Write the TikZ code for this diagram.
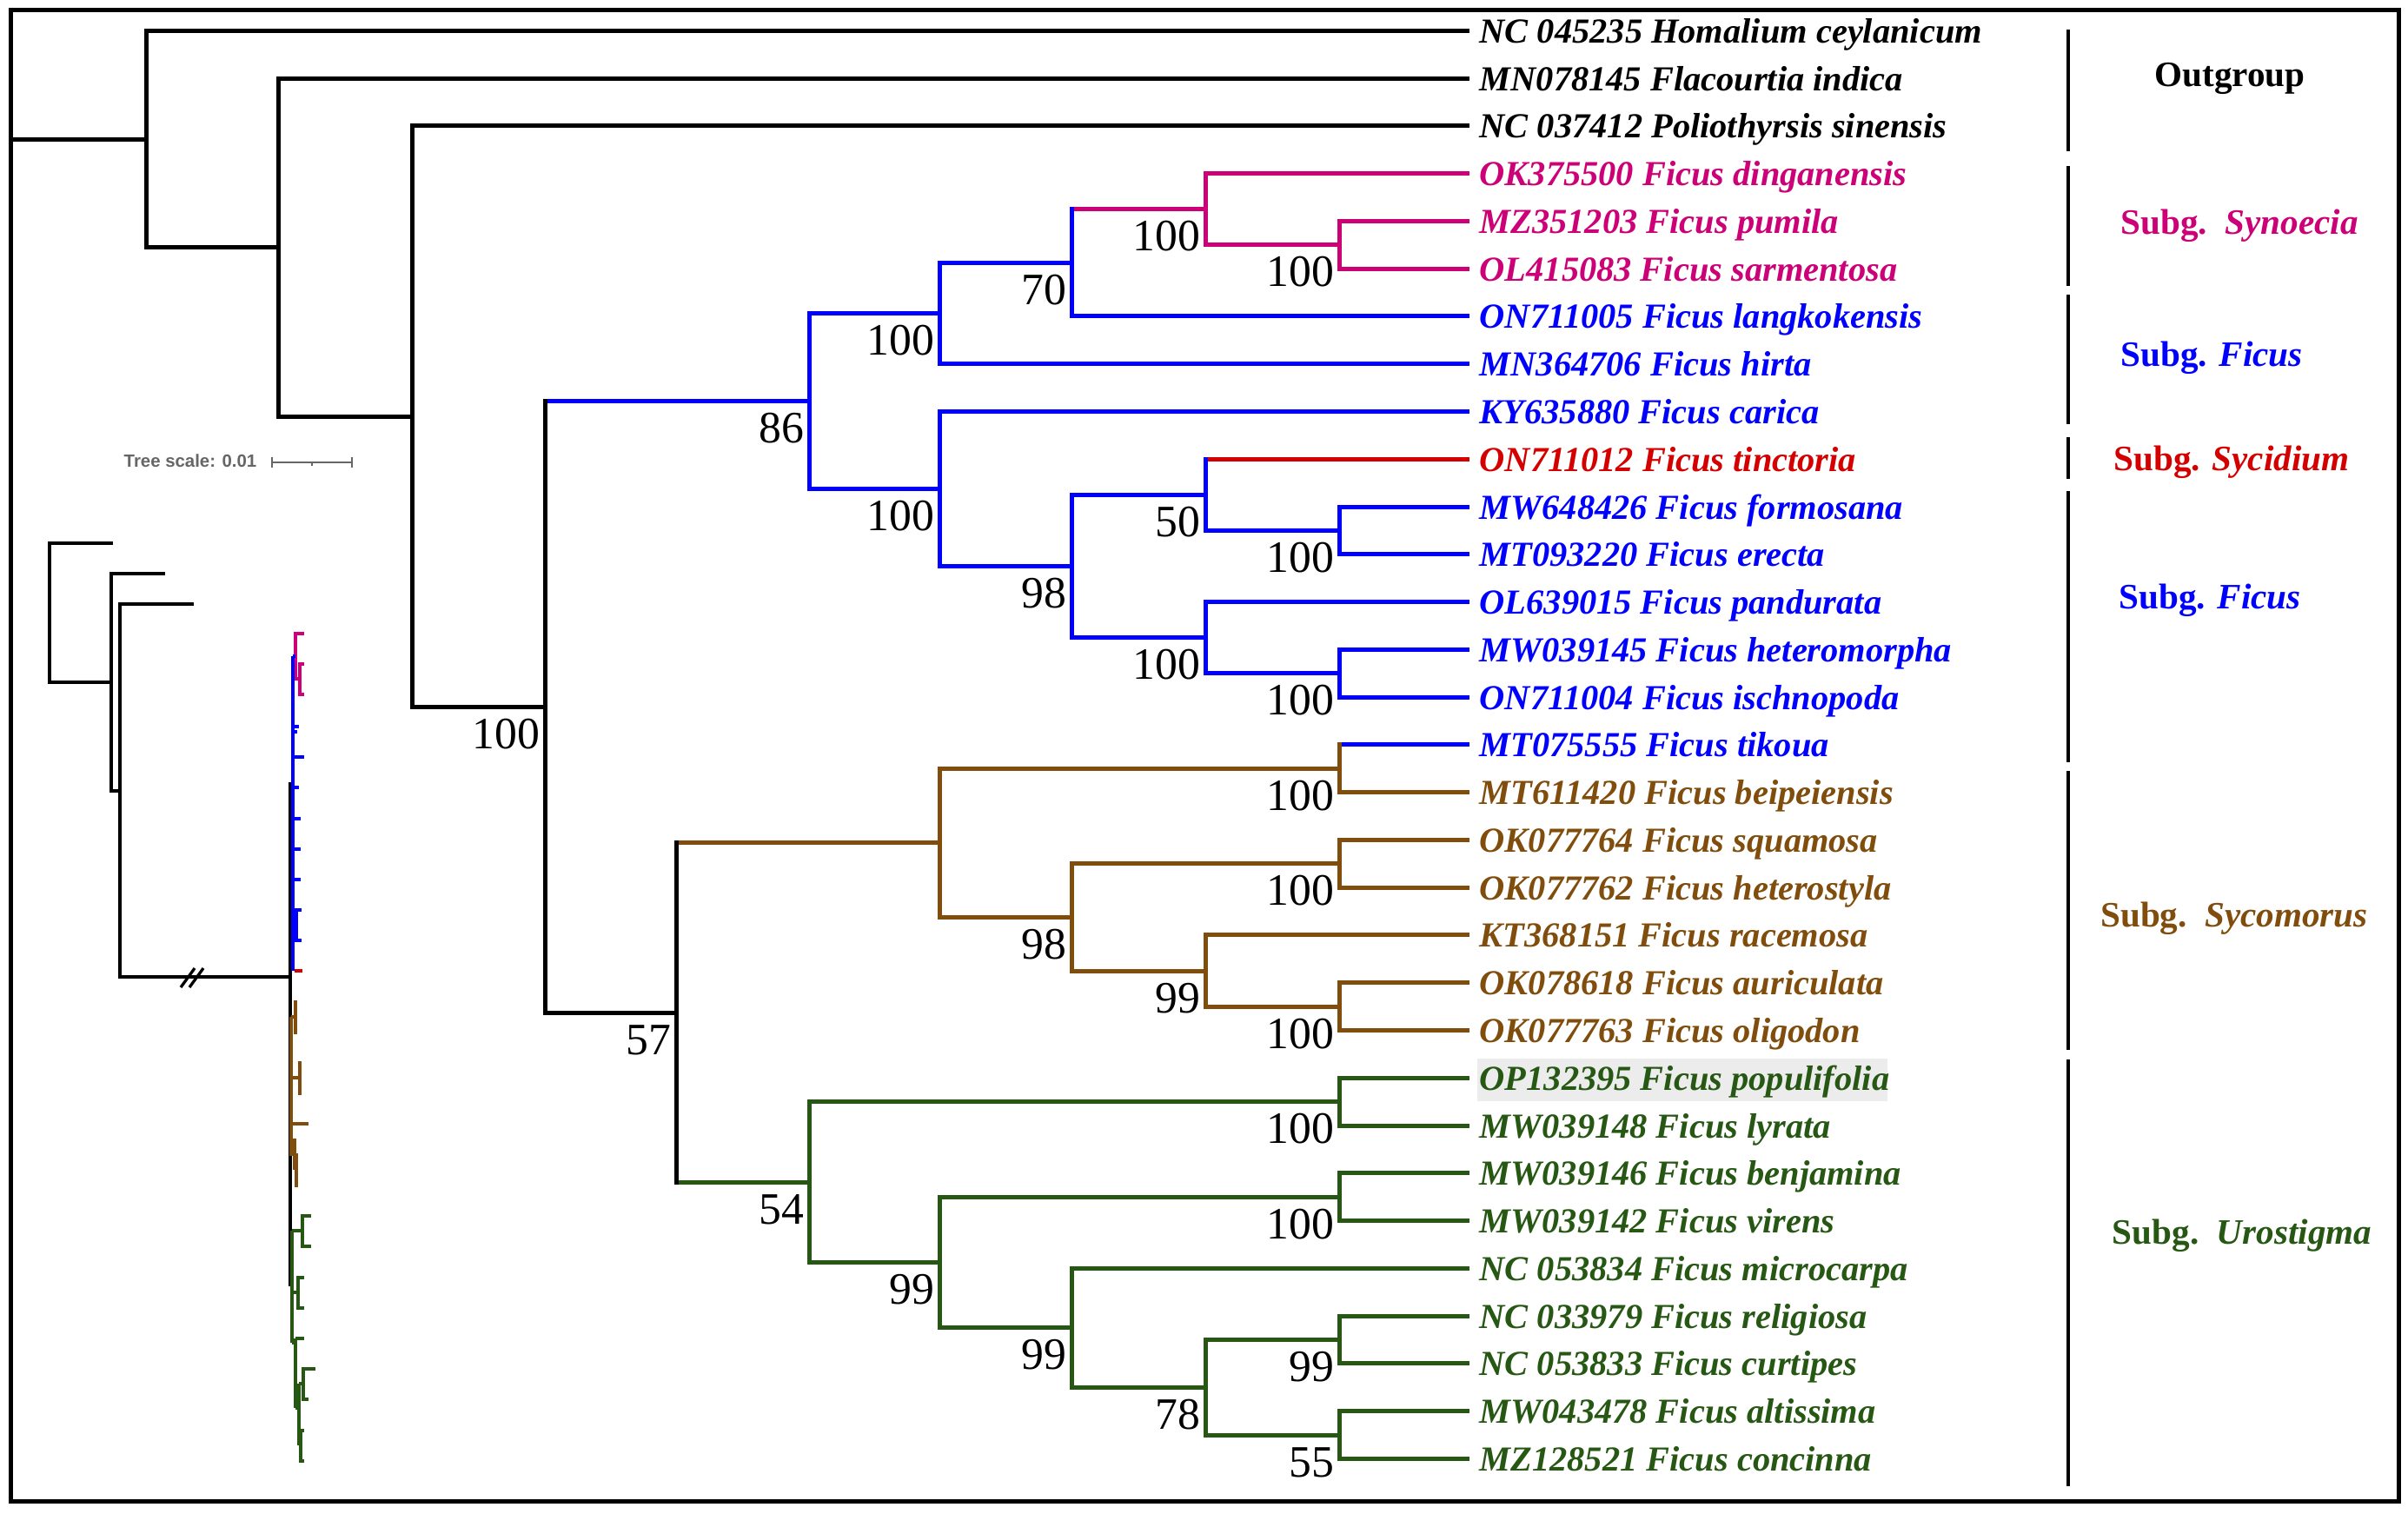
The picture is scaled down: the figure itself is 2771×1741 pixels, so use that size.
\documentclass[tikz,border=0pt]{standalone}
\usepackage{fontspec}
\setmainfont{Liberation Serif}
\newfontfamily\scalefnt{Liberation Sans}
\usetikzlibrary{calc}
\definecolor{cmag}{RGB}{204,0,119}
\definecolor{cblue}{RGB}{0,0,255}
\definecolor{cred}{RGB}{212,0,0}
\definecolor{cbrown}{RGB}{128,77,13}
\definecolor{cgreen}{RGB}{38,88,20}
\newcommand\branch[4]{%
  \draw[br,#4] (#1 |- #2) -- (#2);
  \draw[br,#3] (#1) -- (#1 |- #2);}
\begin{document}
\begin{tikzpicture}[x=0.1mm,y=-0.1mm,
  br/.style={line width=0.5mm, line cap=rect},
  ib/.style={line width=0.33mm},
  leaf/.style={anchor=base west, inner sep=0pt, font=\fontsize{11.5pt}{14pt}\selectfont\bfseries\itshape},
  bs/.style={anchor=base east, inner sep=0pt, font=\fontsize{14.7pt}{16pt}\selectfont},
  grp/.style={anchor=center, inner sep=0pt, font=\fontsize{11.7pt}{14pt}\selectfont\bfseries},
  gbar/.style={line width=0.45mm}]
\useasboundingbox (0,0) rectangle (2771,1741);
\fill[white] (0,0) rectangle (2771,1741);
\draw[line width=0.5mm] (12,11) rectangle (2760,1727);

% leaf tips
\foreach \i in {1,...,31} { \coordinate (t\i) at (1688,{35.3+54.77*(\i-1)}); }
% internal nodes
\coordinate (J) at (1541,281.8);
\coordinate (I) at (1387,240.7);
\coordinate (H) at (1233,302.3);
\coordinate (F) at (1081,360.5);
\coordinate (N) at (1541,610.4);
\coordinate (L) at (1387,569.3);
\coordinate (O) at (1541,774.7);
\coordinate (M) at (1387,733.6);
\coordinate (K) at (1233,651.5);
\coordinate (G) at (1081,562.5);
\coordinate (D) at (931,461.5);
\coordinate (R) at (1541,884.3);
\coordinate (T) at (1541,993.8);
\coordinate (V) at (1541,1158.1);
\coordinate (U) at (1387,1117.0);
\coordinate (S) at (1233,1055.4);
\coordinate (P) at (1081,969.9);
\coordinate (W) at (1541,1267.6);
\coordinate (Y) at (1541,1377.2);
\coordinate (BB) at (1541,1541.5);
\coordinate (CC) at (1541,1651.0);
\coordinate (AA) at (1387,1596.3);
\coordinate (Z) at (1233,1527.8);
\coordinate (X) at (1081,1452.5);
\coordinate (Q) at (931,1360.1);
\coordinate (E) at (778,1165.0);
\coordinate (C) at (627,813.3);
\coordinate (B) at (474,479.1);
\coordinate (A) at (320,284.6);
\coordinate (rt) at (168,160.0);
\coordinate (rtin) at (14,160.0);

% branches
\draw[br] (rtin) -- (rt);
\branch{rt}{t1}{black}{black}
\branch{rt}{A}{black}{black}
\branch{A}{t2}{black}{black}
\branch{A}{B}{black}{black}
\branch{B}{t3}{black}{black}
\branch{B}{C}{black}{black}
\branch{C}{D}{black}{cblue}
\branch{C}{E}{black}{black}
\branch{D}{F}{cblue}{cblue}
\branch{D}{G}{cblue}{cblue}
\branch{F}{H}{cblue}{cblue}
\branch{F}{t8}{cblue}{cblue}
\branch{H}{I}{cblue}{cmag}
\branch{H}{t7}{cblue}{cblue}
\branch{I}{t4}{cmag}{cmag}
\branch{I}{J}{cmag}{cmag}
\branch{J}{t5}{cmag}{cmag}
\branch{J}{t6}{cmag}{cmag}
\branch{G}{t9}{cblue}{cblue}
\branch{G}{K}{cblue}{cblue}
\branch{K}{L}{cblue}{cblue}
\branch{K}{M}{cblue}{cblue}
\branch{L}{t10}{cblue}{cred}
\branch{L}{N}{cblue}{cblue}
\branch{N}{t11}{cblue}{cblue}
\branch{N}{t12}{cblue}{cblue}
\branch{M}{t13}{cblue}{cblue}
\branch{M}{O}{cblue}{cblue}
\branch{O}{t14}{cblue}{cblue}
\branch{O}{t15}{cblue}{cblue}
\branch{E}{P}{black}{cbrown}
\branch{E}{Q}{black}{cgreen}
\branch{P}{R}{cbrown}{cbrown}
\branch{P}{S}{cbrown}{cbrown}
\branch{R}{t16}{cbrown}{cblue}
\branch{R}{t17}{cbrown}{cbrown}
\branch{S}{T}{cbrown}{cbrown}
\branch{S}{U}{cbrown}{cbrown}
\branch{T}{t18}{cbrown}{cbrown}
\branch{T}{t19}{cbrown}{cbrown}
\branch{U}{t20}{cbrown}{cbrown}
\branch{U}{V}{cbrown}{cbrown}
\branch{V}{t21}{cbrown}{cbrown}
\branch{V}{t22}{cbrown}{cbrown}
\branch{Q}{W}{cgreen}{cgreen}
\branch{Q}{X}{cgreen}{cgreen}
\branch{W}{t23}{cgreen}{cgreen}
\branch{W}{t24}{cgreen}{cgreen}
\branch{X}{Y}{cgreen}{cgreen}
\branch{X}{Z}{cgreen}{cgreen}
\branch{Y}{t25}{cgreen}{cgreen}
\branch{Y}{t26}{cgreen}{cgreen}
\branch{Z}{t27}{cgreen}{cgreen}
\branch{Z}{AA}{cgreen}{cgreen}
\branch{AA}{BB}{cgreen}{cgreen}
\branch{AA}{CC}{cgreen}{cgreen}
\branch{BB}{t28}{cgreen}{cgreen}
\branch{BB}{t29}{cgreen}{cgreen}
\branch{CC}{t30}{cgreen}{cgreen}
\branch{CC}{t31}{cgreen}{cgreen}

% bootstrap values
\foreach \n/\v in {C/100,D/86,F/100,H/70,I/100,J/100,G/100,K/98,L/50,N/100,M/100,O/100,E/57,R/100,S/98,T/100,U/99,V/100,Q/54,W/100,X/99,Y/100,Z/99,AA/78,BB/99,CC/55}
  { \node[bs] (bs\n) at ($(\n)+(-5,48)$) {\v}; }

% highlight
\fill[gray!15] (1700,1218) rectangle (2172,1267);

% leaf labels
\node[leaf] (n1) at ($(t1)+(14,14)$) {NC 045235 Homalium ceylanicum};
\node[leaf] (n2) at ($(t2)+(14,14)$) {MN078145 Flacourtia indica};
\node[leaf] (n3) at ($(t3)+(14,14)$) {NC 037412 Poliothyrsis sinensis};
\node[leaf,cmag] (n4) at ($(t4)+(14,14)$) {OK375500 Ficus dinganensis};
\node[leaf,cmag] (n5) at ($(t5)+(14,14)$) {MZ351203 Ficus pumila};
\node[leaf,cmag] (n6) at ($(t6)+(14,14)$) {OL415083 Ficus sarmentosa};
\node[leaf,cblue] (n7) at ($(t7)+(14,14)$) {ON711005 Ficus langkokensis};
\node[leaf,cblue] (n8) at ($(t8)+(14,14)$) {MN364706 Ficus hirta};
\node[leaf,cblue] (n9) at ($(t9)+(14,14)$) {KY635880 Ficus carica};
\node[leaf,cred] (n10) at ($(t10)+(14,14)$) {ON711012 Ficus tinctoria};
\node[leaf,cblue] (n11) at ($(t11)+(14,14)$) {MW648426 Ficus formosana};
\node[leaf,cblue] (n12) at ($(t12)+(14,14)$) {MT093220 Ficus erecta};
\node[leaf,cblue] (n13) at ($(t13)+(14,14)$) {OL639015 Ficus pandurata};
\node[leaf,cblue] (n14) at ($(t14)+(14,14)$) {MW039145 Ficus heteromorpha};
\node[leaf,cblue] (n15) at ($(t15)+(14,14)$) {ON711004 Ficus ischnopoda};
\node[leaf,cblue] (n16) at ($(t16)+(14,14)$) {MT075555 Ficus tikoua};
\node[leaf,cbrown] (n17) at ($(t17)+(14,14)$) {MT611420 Ficus beipeiensis};
\node[leaf,cbrown] (n18) at ($(t18)+(14,14)$) {OK077764 Ficus squamosa};
\node[leaf,cbrown] (n19) at ($(t19)+(14,14)$) {OK077762 Ficus heterostyla};
\node[leaf,cbrown] (n20) at ($(t20)+(14,14)$) {KT368151 Ficus racemosa};
\node[leaf,cbrown] (n21) at ($(t21)+(14,14)$) {OK078618 Ficus auriculata};
\node[leaf,cbrown] (n22) at ($(t22)+(14,14)$) {OK077763 Ficus oligodon};
\node[leaf,cgreen] (n23) at ($(t23)+(14,14)$) {OP132395 Ficus populifolia};
\node[leaf,cgreen] (n24) at ($(t24)+(14,14)$) {MW039148 Ficus lyrata};
\node[leaf,cgreen] (n25) at ($(t25)+(14,14)$) {MW039146 Ficus benjamina};
\node[leaf,cgreen] (n26) at ($(t26)+(14,14)$) {MW039142 Ficus virens};
\node[leaf,cgreen] (n27) at ($(t27)+(14,14)$) {NC 053834 Ficus microcarpa};
\node[leaf,cgreen] (n28) at ($(t28)+(14,14)$) {NC 033979 Ficus religiosa};
\node[leaf,cgreen] (n29) at ($(t29)+(14,14)$) {NC 053833 Ficus curtipes};
\node[leaf,cgreen] (n30) at ($(t30)+(14,14)$) {MW043478 Ficus altissima};
\node[leaf,cgreen] (n31) at ($(t31)+(14,14)$) {MZ128521 Ficus concinna};

% group bars
\draw[gbar] (2380,34) -- (2380,174);
\draw[gbar] (2380,191) -- (2380,329);
\draw[gbar] (2380,339) -- (2380,488);
\draw[gbar] (2380,503) -- (2380,551);
\draw[gbar] (2380,565) -- (2380,877);
\draw[gbar] (2380,887) -- (2380,1208);
\draw[gbar] (2380,1219) -- (2380,1710);

% group labels
\node[grp] (g1) at (2566,90) {Outgroup};
\node[grp,cmag] (g2) at (2577,260) {Subg.\ \ \textit{Synoecia}};
\node[grp,cblue] (g3) at (2545,412) {Subg. \textit{Ficus}};
\node[grp,cred] (g4) at (2568,532) {Subg. \textit{Sycidium}};
\node[grp,cblue] (g5) at (2543,691) {Subg. \textit{Ficus}};
\node[grp,cbrown] (g6) at (2571,1057) {Subg.\ \ \textit{Sycomorus}};
\node[grp,cgreen] (g7) at (2580,1422) {Subg.\ \ \textit{Urostigma}};

% tree scale
\node[anchor=west, inner sep=0pt, text=black!60, font=\scalefnt\fontsize{5.8pt}{7pt}\selectfont\bfseries] (ts) at (142,530) {Tree scale: 0.01};
\draw[black!60, line width=0.2mm] (313,532) -- (405,532);
\draw[black!60, line width=0.2mm] (313,526) -- (313,538);
\draw[black!60, line width=0.2mm] (405,526) -- (405,538);
\draw[black!60, line width=0.2mm] (359,532) -- (359,536);

% inset tree
\begin{scope}[ib]
\draw (130,625) -- (57,625) -- (57,785) -- (128,785);
\draw (190,660) -- (128,660) -- (128,910) -- (138,910);
\draw (223,695) -- (138,695) -- (138,1124) -- (334,1124);
\draw (208,1136) -- (224,1114);
\draw (218,1136) -- (234,1114);
\draw (334,900) -- (334,1480);
\begin{scope}[cmag]
\draw (350,729) -- (340,729) -- (340,781) -- (345,781);
\draw (350,764) -- (345,764) -- (345,799) -- (350,799);
\end{scope}
\begin{scope}[cblue]
\draw (337,755) -- (337,1117);
\draw (337,755) -- (340,755);
\draw (337,836) -- (344,836);
\draw (337,842) -- (342,842);
\draw (337,871) -- (350,871);
\draw (337,906) -- (344,906);
\draw (337,942) -- (346,942);
\draw (337,977) -- (346,977);
\draw (337,1012) -- (346,1012);
\draw (337,1065) -- (341,1065);
\draw (347,1047) -- (341,1047) -- (341,1082) -- (347,1082);
\end{scope}
\draw[cred] (339,1117) -- (348,1117);
\begin{scope}[cbrown]
\draw (335,1170) -- (335,1330);
\draw (335,1170) -- (340,1170);
\draw (342,1153) -- (340,1153) -- (340,1188) -- (342,1188);
\draw (335,1240) -- (345,1240);
\draw (347,1223) -- (345,1223) -- (345,1258) -- (347,1258);
\draw (335,1293) -- (355,1293);
\draw (335,1320) -- (339,1320);
\draw (339,1310) -- (339,1346);
\draw (339,1346) -- (341,1346);
\draw (343,1329) -- (341,1329) -- (341,1364) -- (343,1364);
\end{scope}
\begin{scope}[cgreen]
\draw (336,1416) -- (336,1545);
\draw (336,1416) -- (348,1416);
\draw (358,1399) -- (348,1399) -- (348,1434) -- (358,1434);
\draw (336,1487) -- (343,1487);
\draw (350,1470) -- (343,1470) -- (343,1505) -- (350,1505);
\draw (336,1545) -- (340,1545);
\draw (340,1540) -- (340,1620);
\draw (340,1540) -- (350,1540);
\draw (340,1620) -- (344,1620);
\draw (344,1592) -- (344,1663);
\draw (344,1592) -- (349,1592);
\draw (363,1575) -- (349,1575) -- (349,1610) -- (355,1610);
\draw (344,1663) -- (346,1663);
\draw (350,1646) -- (346,1646) -- (346,1681) -- (350,1681);
\end{scope}
\end{scope}
\end{tikzpicture}
\end{document}
